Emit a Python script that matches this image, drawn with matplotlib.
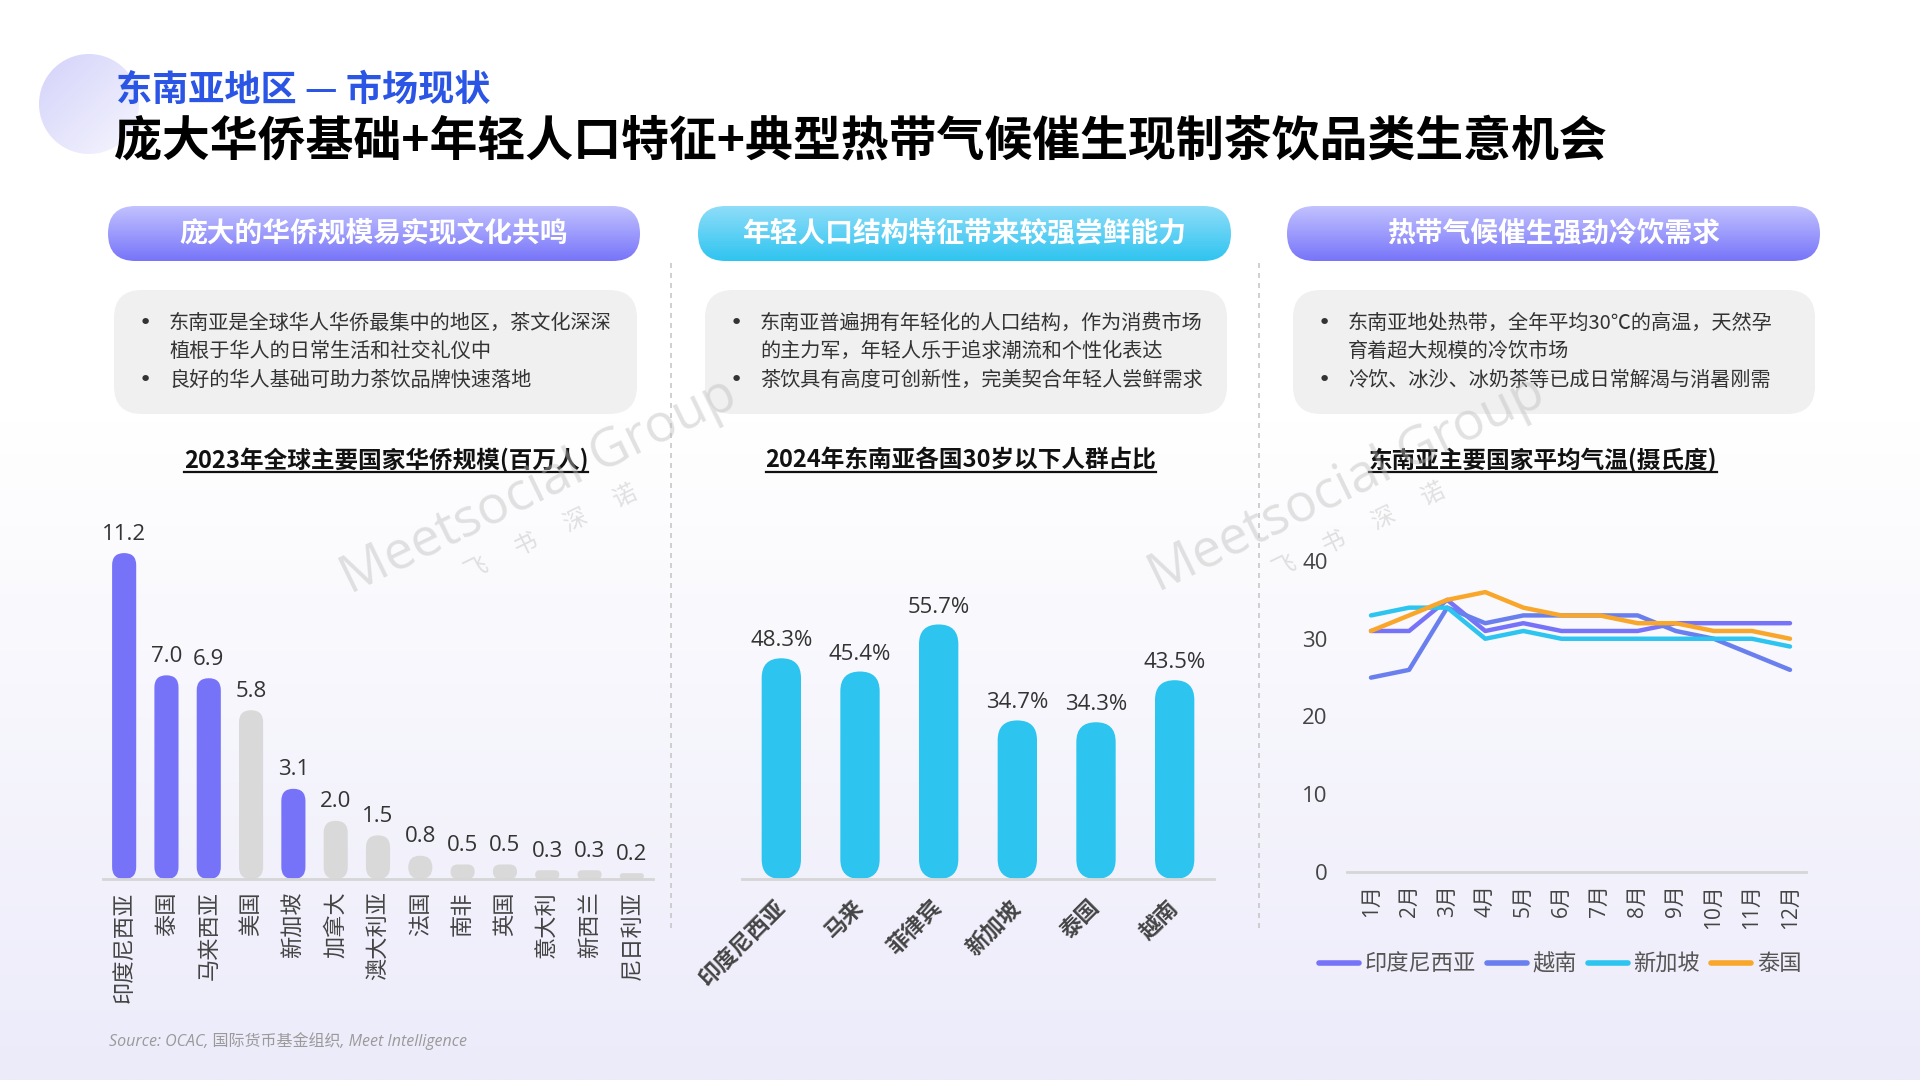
import numpy as np
import matplotlib
matplotlib.use('Agg')
from matplotlib import pyplot as plt
from matplotlib.patches import FancyBboxPatch, Circle
from matplotlib.colors import to_rgb

plt.rcParams['font.family'] = ['Noto Sans CJK SC', 'DejaVu Sans']
NUM_FONT = ['Open Sans', 'Noto Sans CJK SC', 'DejaVu Sans']

# ---- data ----
overseas_countries = ['印度尼西亚', '泰国', '马来西亚', '美国', '新加坡', '加拿大', '澳大利亚',
                      '法国', '南非', '英国', '意大利', '新西兰', '尼日利亚']
overseas_values = [11.2, 7.0, 6.9, 5.8, 3.1, 2.0, 1.5, 0.8, 0.5, 0.5, 0.3, 0.3, 0.2]
overseas_in_sea = [True, True, True, False, True, False, False, False, False, False, False, False, False]

youth_countries = ['印度尼西亚', '马来', '菲律宾', '新加坡', '泰国', '越南']
youth_share = [48.3, 45.4, 55.7, 34.7, 34.3, 43.5]

months = ['1月', '2月', '3月', '4月', '5月', '6月', '7月', '8月', '9月', '10月', '11月', '12月']
temp_indonesia = [31, 31, 35, 31, 32, 31, 31, 31, 32, 32, 32, 32]
temp_vietnam = [25, 26, 34, 32, 33, 33, 33, 33, 31, 30, 28, 26]
temp_singapore = [33, 34, 34, 30, 31, 30, 30, 30, 30, 30, 30, 29]
temp_thailand = [31, 33, 35, 36, 34, 33, 33, 32, 32, 31, 31, 30]

PURPLE = '#7773F9'
GREY_BAR = '#D9D9D9'
CYAN = '#2EC4F0'
VIET = '#6A7FEE'
ORANGE = '#F9A72B'

W, H = 1920, 1080
fig = plt.figure(figsize=(19.2, 10.8), dpi=100)

# ---- background layer in pixel coordinates ----
bg = fig.add_axes([0, 0, 1, 1], zorder=-10)
bg.axis('off')


def vgrad(x0, y0, x1, y1, c_top, c_bot, clip=None, zorder=0):
    t = np.linspace(0, 1, 256)[:, None, None]
    top = np.array(to_rgb(c_top))
    bot = np.array(to_rgb(c_bot))
    img = top + (bot - top) * t
    im = bg.imshow(img, extent=(x0, x1, y1, y0), aspect='auto', origin='upper',
                   zorder=zorder, interpolation='bilinear')
    if clip is not None:
        im.set_clip_path(clip)
    return im


vgrad(0, 0, W, 420, '#FFFFFF', '#FFFFFF', zorder=0)
vgrad(0, 420, W, H, '#FFFFFF', '#ECEBFA', zorder=0)

# decorative circle
circ = Circle((89, 104), 50, transform=bg.transData, facecolor='none', edgecolor='none')
bg.add_patch(circ)
t = np.linspace(0, 1, 128)
gx, gy = np.meshgrid(t, t)
mix = np.clip((gx + gy) / 2, 0, 1)[..., None]
c1, c2 = np.array(to_rgb('#D3D2FA')), np.array(to_rgb('#F6F6FE'))
im = bg.imshow(c1 + (c2 - c1) * mix, extent=(39, 139, 154, 54), aspect='auto', origin='upper', zorder=1)
im.set_clip_path(circ)

# titles
bg.text(116, 90, '东南亚地区 — 市场现状', fontsize=26, fontweight='bold', color='#2A55E5',
        va='center', ha='left', zorder=5)
bg.text(114, 141, '庞大华侨基础+年轻人口特征+典型热带气候催生现制茶饮品类生意机会', fontsize=34.5,
        fontweight='heavy', color='#000000', va='center', ha='left', zorder=5)

# header pills
pills = [(108, 640, '庞大的华侨规模易实现文化共鸣', '#C2C2FF', '#7774F9'),
         (698, 1231, '年轻人口结构特征带来较强尝鲜能力', '#8FDDF9', '#2EC4F0'),
         (1287, 1820, '热带气候催生强劲冷饮需求', '#C2C2FF', '#7774F9')]
for x0, x1, label, ct, cb in pills:
    p = FancyBboxPatch((x0, 206), x1 - x0, 55, boxstyle='round,pad=0,rounding_size=27.5',
                       transform=bg.transData, facecolor='none', edgecolor='none')
    bg.add_patch(p)
    vgrad(x0, 206, x1, 261, ct, cb, clip=p, zorder=2)
    bg.text((x0 + x1) / 2, 233, label, fontsize=20, fontweight='bold', color='white',
            ha='center', va='center', zorder=5)

# bullet boxes
boxes = [(114, 637, ['东南亚是全球华人华侨最集中的地区，茶文化深深', '植根于华人的日常生活和社交礼仪中',
                     '良好的华人基础可助力茶饮品牌快速落地'], [0, 2]),
         (705, 1227, ['东南亚普遍拥有年轻化的人口结构，作为消费市场', '的主力军，年轻人乐于追求潮流和个性化表达',
                      '茶饮具有高度可创新性，完美契合年轻人尝鲜需求'], [0, 2]),
         (1293, 1815, ['东南亚地处热带，全年平均30℃的高温，天然孕', '育着超大规模的冷饮市场',
                       '冷饮、冰沙、冰奶茶等已成日常解渴与消暑刚需'], [0, 2])]
line_y = [323, 351, 380]
for x0, x1, lines, bullets in boxes:
    bg.add_patch(FancyBboxPatch((x0, 290), x1 - x0, 124, boxstyle='round,pad=0,rounding_size=28',
                                facecolor='#F0F0F0', edgecolor='none', zorder=2))
    for k, (ln, yy) in enumerate(zip(lines, line_y)):
        if k in bullets:
            bg.text(x0 + 31, yy, '•', fontsize=16, color='#333333', ha='center', va='center',
                    family=['DejaVu Sans'], zorder=5)
        bg.text(x0 + 55, yy, ln, fontsize=14.5, color='#333333', ha='left', va='center', zorder=5)

# dashed separators
for xs in (671, 1259):
    bg.plot([xs, xs], [263, 930], color='#C8C8C8', lw=1.2, ls=(0, (3, 3)), zorder=3)

# chart titles (underlined)
chart_titles = [(386, '2023年全球主要国家华侨规模(百万人)'),
                (961, '2024年东南亚各国30岁以下人群占比'),
                (1543, '东南亚主要国家平均气温(摄氏度)')]
for cx, txt in chart_titles:
    bg.text(cx, 460, txt, fontsize=17, fontweight='bold', color='#111111',
            ha='center', va='center', zorder=5)
fig.canvas.draw()
rend = fig.canvas.get_renderer()
for tt in bg.texts[-3:]:
    bb = tt.get_window_extent(rend)
    bg.plot([bb.x0, bb.x1], [472, 472], color='#111111', lw=1.6, zorder=5)

# watermarks
for wx, wy in [(539, 487), (1347, 485)]:
    bg.text(wx, wy, 'Meetsocial Group', fontsize=38, color='#BEBEBE', alpha=0.45, rotation=26,
            ha='center', va='center', family=NUM_FONT, zorder=6)
    bg.text(wx + 12, wy + 46, '飞      书      深      诺', fontsize=17, color='#BEBEBE', alpha=0.45,
            rotation=26, ha='center', va='center', zorder=6)

# source
bg.text(109, 1041, 'Source: OCAC, 国际货币基金组织, Meet Intelligence', fontsize=11.5, style='italic',
        color='#9A9A9A', ha='left', va='center', family=NUM_FONT, zorder=5)

bg.set_xlim(0, W)
bg.set_ylim(H, 0)


def px_axes(x0, x1, y_top, y_base):
    return fig.add_axes([x0 / W, (H - y_base) / H, (x1 - x0) / W, (y_base - y_top) / H])


def rounded_bars(ax, vals, width, colors):
    pos = ax.get_position()
    xl, yl = ax.get_xlim(), ax.get_ylim()
    xpp = (xl[1] - xl[0]) / (pos.width * W)
    ypp = (yl[1] - yl[0]) / (pos.height * H)
    aspect = ypp / xpp
    for i, (v, c) in enumerate(zip(vals, colors)):
        rr = min(width / 2, v / aspect / 2)
        ax.add_patch(FancyBboxPatch((i - width / 2, 0), width, v,
                                    boxstyle='round,pad=0,rounding_size=%f' % rr,
                                    mutation_aspect=aspect, facecolor=c, edgecolor='none'))


def style_axes(ax):
    ax.patch.set_alpha(0)
    for s in ('top', 'right', 'left'):
        ax.spines[s].set_visible(False)
    ax.spines['bottom'].set_color('#D6D6D6')
    ax.spines['bottom'].set_linewidth(2)
    ax.tick_params(length=0)


# ---- chart 1: overseas Chinese ----
ax1 = px_axes(103, 653, 500, 879)
ax1.set_xlim(-0.5, len(overseas_values) - 0.5)
ax1.set_ylim(0, 379 / 29.1)
style_axes(ax1)
rounded_bars(ax1, overseas_values, 0.57, [PURPLE if s else GREY_BAR for s in overseas_in_sea])
for i, v in enumerate(overseas_values):
    ax1.annotate('%.1f' % v, (i, v), xytext=(0, 6), textcoords='offset points', ha='center',
                 va='bottom', fontsize=16, color='#333333', family=NUM_FONT)
ax1.set_yticks([])
ax1.set_xticks(range(len(overseas_countries)))
ax1.set_xticklabels(overseas_countries, rotation=90, fontsize=16, color='#444444', va='top', ha='center')
ax1.tick_params(axis='x', pad=9)

# ---- chart 2: under-30 share ----
ax2 = px_axes(742, 1214, 560, 879)
ax2.set_xlim(-0.5, len(youth_share) - 0.5)
ax2.set_ylim(0, 319 / 4.57)
style_axes(ax2)
rounded_bars(ax2, youth_share, 0.5, [CYAN] * len(youth_share))
for i, v in enumerate(youth_share):
    ax2.annotate('%.1f%%' % v, (i, v), xytext=(0, 5), textcoords='offset points', ha='center',
                 va='bottom', fontsize=16, color='#333333', family=NUM_FONT)
ax2.set_yticks([])
ax2.set_xticks(range(len(youth_countries)))
ax2.set_xticklabels(youth_countries, rotation=45, fontsize=16, fontweight='bold', color='#444444',
                    ha='right', va='center', rotation_mode='anchor')
ax2.tick_params(axis='x', pad=18)

# ---- chart 3: temperature ----
ax3 = px_axes(1347, 1806, 561, 872)
style_axes(ax3)
xm = np.arange(len(months))
series = [('印度尼西亚', temp_indonesia, PURPLE), ('越南', temp_vietnam, VIET),
          ('新加坡', temp_singapore, CYAN), ('泰国', temp_thailand, ORANGE)]
for name, vals, col in series:
    ax3.plot(xm, vals, color=col, lw=3.2, label=name, solid_joinstyle='round', solid_capstyle='round')
ax3.set_xlim(-0.63, 11.42)
ax3.set_ylim(0, 40)
ax3.set_yticks([0, 10, 20, 30, 40])
ax3.set_yticklabels(['0', '10', '20', '30', '40'], fontsize=16, color='#444444', family=NUM_FONT)
ax3.tick_params(axis='y', pad=14)
ax3.set_xticks(xm)
ax3.set_xticklabels(months, rotation=90, fontsize=15, color='#444444', family=NUM_FONT, va='top')
ax3.tick_params(axis='x', pad=9)
leg = ax3.legend(loc='center', bbox_to_anchor=(1560 / W, (H - 964) / H), bbox_transform=fig.transFigure,
                 ncol=4, frameon=False, fontsize=16, handlelength=1.8, handletextpad=0.25,
                 columnspacing=0.5, labelcolor='#555555')
for lh in leg.get_lines():
    lh.set_linewidth(4)

fig.savefig('out.png', dpi=100)
